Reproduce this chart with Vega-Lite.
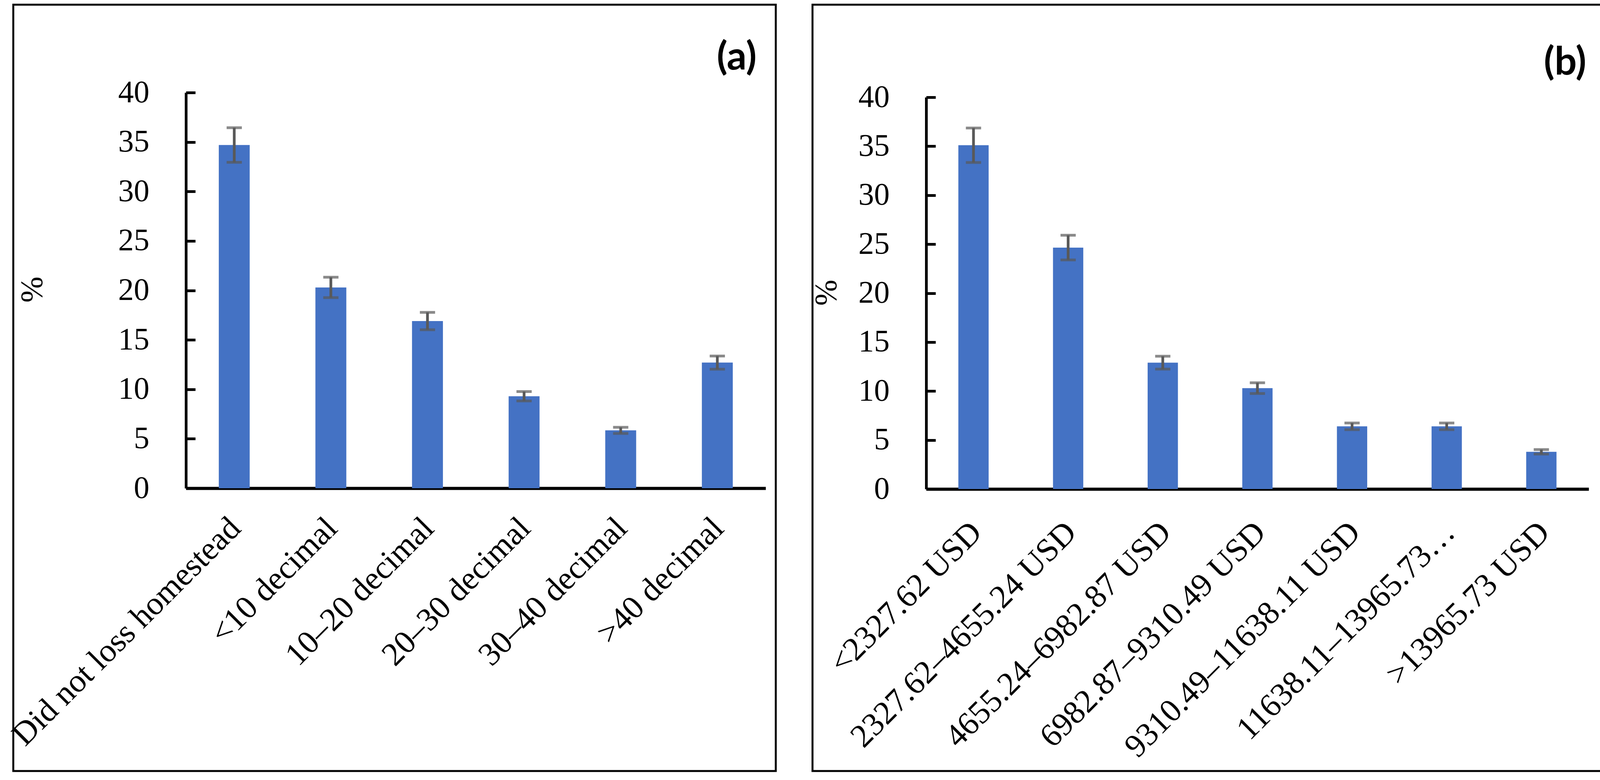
{
  "$schema": "https://vega.github.io/schema/vega-lite/v6.json",
  "background": "white",
  "padding": {"left": 13, "top": 9, "right": 0, "bottom": 0},
  "spacing": 84,
  "config": {
    "view": {"stroke": "black", "strokeWidth": 5},
    "axis": {"grid": false}
  },
  "hconcat": [
    {
      "width": 1952,
      "height": 1962,
      "title": {"text": "(a)", "orient": "top", "anchor": "end", "frame": "group", "offset": -171, "dx": -49, "dy": 95, "baseline": "alphabetic", "font": "Lato", "fontSize": 100, "fontWeight": "bold", "color": "black"},
      "data": {"values": [
        {"cat": "Did not loss homestead", "pct": 34.7, "se": 1.75},
        {"cat": "<10 decimal", "pct": 20.3, "se": 1.03},
        {"cat": "10–20 decimal", "pct": 16.9, "se": 0.88},
        {"cat": "20–30 decimal", "pct": 9.3, "se": 0.47},
        {"cat": "30–40 decimal", "pct": 5.85, "se": 0.31},
        {"cat": ">40 decimal", "pct": 12.7, "se": 0.67}
      ]},
      "encoding": {
        "x": {"field": "cat", "type": "nominal", "sort": null,
          "scale": {"range": [442, 1926], "paddingInner": 0.68, "paddingOuter": 0.34},
          "axis": {"title": null, "orient": "bottom", "offset": -724, "ticks": false, "domainColor": "black", "domainWidth": 8,
            "labelAngle": -45, "labelAlign": "right", "labelBaseline": "top", "labelPadding": 60, "labelOffset": -26, "labelLimit": 3000, "labelOverlap": false,
            "labelFont": "Liberation Serif", "labelFontSize": 84, "labelColor": "black"}},
        "y": {"field": "pct", "type": "quantitative", "title": "%",
          "scale": {"domain": [0, 40], "range": [1238, 225], "nice": false, "zero": true},
          "axis": {"orient": "left", "offset": -442, "values": [0, 5, 10, 15, 20, 25, 30, 35, 40],
            "domainColor": "black", "domainWidth": 7, "tickColor": "black", "tickWidth": 7, "tickSize": -24,
            "labelPadding": 118, "labelFont": "Liberation Serif", "labelFontSize": 80, "labelColor": "black",
            "titleFont": "Liberation Serif", "titleFontSize": 80, "titleFontWeight": "normal", "titleColor": "black",
            "titleAngle": -90, "titleX": -393, "titleY": 729, "titleAlign": "center", "titleBaseline": "middle"}}
      },
      "layer": [
        {"mark": {"type": "bar", "color": "#4472C4"}},
        {"mark": {"type": "errorbar", "ticks": true, "size": 39, "thickness": 7, "color": "#595959"},
         "encoding": {"yError": {"field": "se"}}}
      ]
    },
    {
      "width": 2045,
      "height": 1962,
      "title": {"text": "(b)", "orient": "top", "anchor": "end", "frame": "group", "offset": -184, "dx": -64, "dy": 95, "baseline": "alphabetic", "font": "Lato", "fontSize": 100, "fontWeight": "bold", "color": "black"},
      "data": {"values": [
        {"cat": "<2327.62 USD", "pct": 35.1, "se": 1.76},
        {"cat": "2327.62–4655.24 USD", "pct": 24.65, "se": 1.26},
        {"cat": "4655.24–6982.87 USD", "pct": 12.9, "se": 0.66},
        {"cat": "6982.87–9310.49 USD", "pct": 10.3, "se": 0.55},
        {"cat": "9310.49–11638.11 USD", "pct": 6.4, "se": 0.34},
        {"cat": "11638.11–13965.73 USD", "pct": 6.4, "se": 0.34},
        {"cat": ">13965.73 USD", "pct": 3.8, "se": 0.23}
      ]},
      "encoding": {
        "x": {"field": "cat", "type": "nominal", "sort": null,
          "scale": {"range": [291, 1987], "paddingInner": 0.68, "paddingOuter": 0.34},
          "axis": {"title": null, "orient": "bottom", "offset": -722, "ticks": false, "domainColor": "black", "domainWidth": 8,
            "labelAngle": -45, "labelAlign": "right", "labelBaseline": "top", "labelPadding": 69, "labelOffset": -21, "labelLimit": 3000, "labelOverlap": false,
            "labelExpr": "datum.label == '11638.11–13965.73 USD' ? '11638.11–13965.73…' : datum.label",
            "labelFont": "Liberation Serif", "labelFontSize": 84, "labelColor": "black"}},
        "y": {"field": "pct", "type": "quantitative", "title": "%",
          "scale": {"domain": [0, 40], "range": [1240, 237], "nice": false, "zero": true},
          "axis": {"orient": "left", "offset": -291, "values": [0, 5, 10, 15, 20, 25, 30, 35, 40],
            "domainColor": "black", "domainWidth": 7, "tickColor": "black", "tickWidth": 7, "tickSize": -24,
            "labelPadding": 118, "labelFont": "Liberation Serif", "labelFontSize": 80, "labelColor": "black",
            "titleFont": "Liberation Serif", "titleFontSize": 80, "titleFontWeight": "normal", "titleColor": "black",
            "titleAngle": -90, "titleX": -255, "titleY": 737, "titleAlign": "center", "titleBaseline": "middle"}}
      },
      "layer": [
        {"mark": {"type": "bar", "color": "#4472C4"}},
        {"mark": {"type": "errorbar", "ticks": true, "size": 39, "thickness": 7, "color": "#595959"},
         "encoding": {"yError": {"field": "se"}}}
      ]
    }
  ]
}
